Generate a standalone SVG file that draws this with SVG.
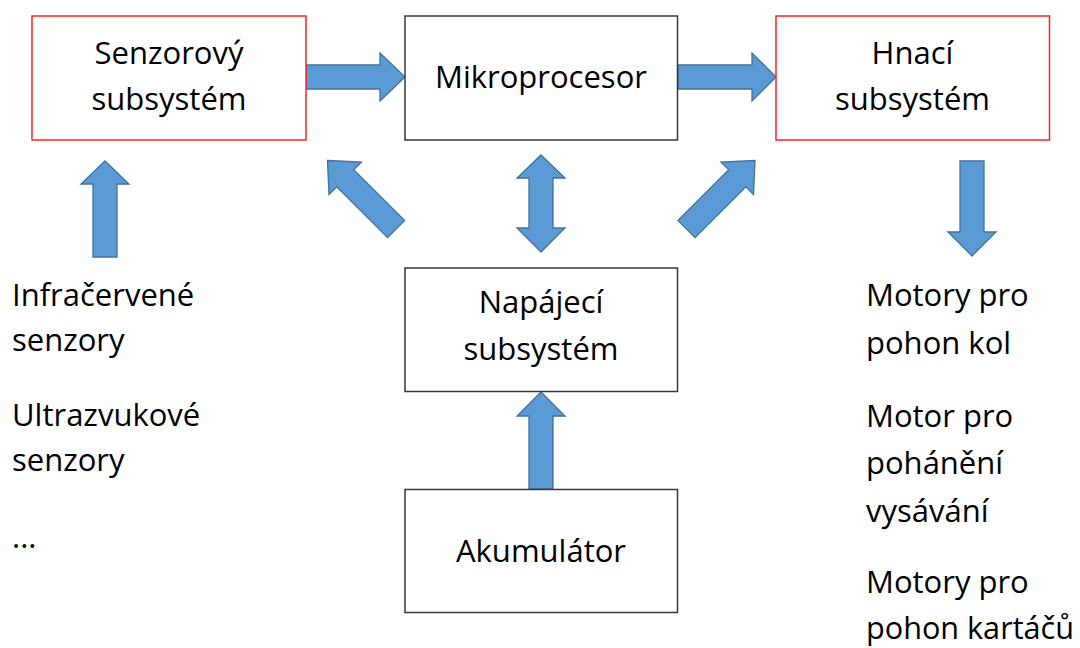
<svg xmlns="http://www.w3.org/2000/svg" width="1080" height="648" viewBox="0 0 1080 648">
  <style>
    .box { fill: #FFFFFF; stroke: #3A3A3A; stroke-width: 1.5; }
    .red { fill: #FFFFFF; stroke: #FF2020; stroke-width: 1.5; }
    .arrow { fill: #5B9BD5; stroke: #41719C; stroke-width: 1.3; stroke-linejoin: miter; }
    text { font-family: "Open Sans", "Liberation Sans", sans-serif; font-size: 31px; fill: #000000; }
    .c { text-anchor: middle; }
  </style>
  <rect width="1080" height="648" fill="#FFFFFF"/>

  <g id="connectors">
    <path class="arrow" d="M306,65 H380 V53 L405,77 L380,101 V89 H306 Z"/>
    <path class="arrow" d="M678,65 H752 V53 L776,77 L752,101 V89 H678 Z"/>
    <path class="arrow" d="M105,161 L129,184 H117 V257 H93 V184 H81 Z"/>
    <path class="arrow" d="M960,161 H984 V232 H996 L972,256 L948,232 H960 Z"/>
    <path class="arrow" d="M541,155 L565,178 H553 V228 H565 L541,252 L517,228 H529 V178 H517 Z"/>
    <path class="arrow" d="M541,392 L565,416 H553 V489 H529 V416 H517 Z"/>
    <path class="arrow" d="M327.5,160.5 L361.5,162 L353.7,169.7 L404.6,220.6 L387.6,237.6 L336.7,186.7 L329,194.5 Z"/>
    <path class="arrow" d="M755,160.5 L753.5,194.5 L745.8,186.7 L695,237.6 L678,220.6 L728.8,169.7 L721,162 Z"/>
  </g>

  <g id="senzorovy">
    <rect class="red" x="32" y="16" width="274" height="124"/>
    <text class="c" x="169" y="64">Senzorový</text>
    <text class="c" x="169" y="110">subsystém</text>
  </g>

  <g id="mikroprocesor">
    <rect class="box" x="405" y="16" width="272.5" height="124"/>
    <text class="c" x="541" y="88">Mikroprocesor</text>
  </g>

  <g id="hnaci">
    <rect class="red" x="776" y="16" width="273.5" height="124"/>
    <text class="c" x="912.5" y="64">Hnací</text>
    <text class="c" x="912.5" y="110">subsystém</text>
  </g>

  <g id="napajeci">
    <rect class="box" x="405" y="268" width="272.5" height="123.5"/>
    <text class="c" x="541" y="313">Napájecí</text>
    <text class="c" x="541" y="360">subsystém</text>
  </g>

  <g id="akumulator">
    <rect class="box" x="405" y="489.5" width="272.5" height="123"/>
    <text class="c" x="541" y="562">Akumulátor</text>
  </g>

  <g id="senzory-list">
    <text x="12" y="306">Infračervené</text>
    <text x="12" y="351">senzory</text>
    <text x="12" y="426">Ultrazvukové</text>
    <text x="12" y="471">senzory</text>
    <text x="12" y="548">...</text>
  </g>

  <g id="motory-list">
    <text x="866" y="306">Motory pro</text>
    <text x="866" y="354">pohon kol</text>
    <text x="866" y="427">Motor pro</text>
    <text x="866" y="474">pohánění</text>
    <text x="866" y="522">vysávání</text>
    <text x="866" y="593">Motory pro</text>
    <text x="866" y="639" textLength="208" lengthAdjust="spacingAndGlyphs">pohon kartáčů</text>
  </g>
</svg>
